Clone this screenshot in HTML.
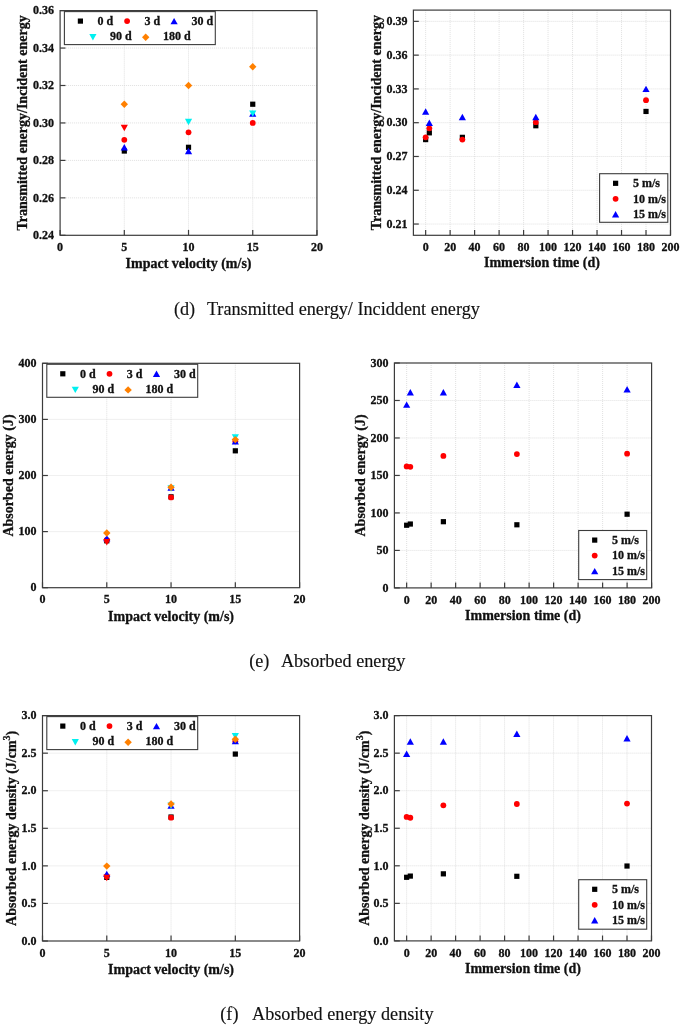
<!DOCTYPE html>
<html><head><meta charset="utf-8"><style>
html,body{margin:0;padding:0;background:#fff;}
svg{display:block;filter:blur(0.35px);}
text{font-family:"Liberation Serif",serif;fill:#111;stroke:#111;stroke-width:0.3px;}
text[font-weight="normal"]{stroke-width:0.15px;}
.g{stroke:#d8d8d8;stroke-width:0.8;stroke-dasharray:1 1;}
.t{stroke:#3c3c3c;stroke-width:1.2;}
</style></head><body>
<svg width="685" height="1025" viewBox="0 0 685 1025">
<rect width="685" height="1025" fill="#fff"/>
<line x1="124.31" y1="10.6" x2="124.31" y2="235.3" class="g"/>
<line x1="188.52" y1="10.6" x2="188.52" y2="235.3" class="g"/>
<line x1="252.74" y1="10.6" x2="252.74" y2="235.3" class="g"/>
<line x1="60.1" y1="197.85" x2="316.95" y2="197.85" class="g"/>
<line x1="60.1" y1="160.4" x2="316.95" y2="160.4" class="g"/>
<line x1="60.1" y1="122.95" x2="316.95" y2="122.95" class="g"/>
<line x1="60.1" y1="85.5" x2="316.95" y2="85.5" class="g"/>
<line x1="60.1" y1="48.05" x2="316.95" y2="48.05" class="g"/>
<rect x="121.71" y="148.44" width="5.2" height="5.2" fill="#000000"/>
<rect x="185.92" y="144.69" width="5.2" height="5.2" fill="#000000"/>
<rect x="250.14" y="101.62" width="5.2" height="5.2" fill="#000000"/>
<circle cx="124.31" cy="139.8" r="2.9" fill="#ff0000"/>
<circle cx="188.52" cy="132.31" r="2.9" fill="#ff0000"/>
<circle cx="252.74" cy="122.95" r="2.9" fill="#ff0000"/>
<path d="M124.31 144.09L127.91 150.49L120.71 150.49Z" fill="#0000ff"/>
<path d="M188.52 147.84L192.12 154.24L184.92 154.24Z" fill="#0000ff"/>
<path d="M252.74 110.39L256.34 116.79L249.14 116.79Z" fill="#0000ff"/>
<path d="M184.92 118.81L192.12 118.81L188.52 125.21Z" fill="#00f0f0"/>
<path d="M249.14 110.39L256.34 110.39L252.74 116.79Z" fill="#00f0f0"/>
<path d="M120.71 124.81L127.91 124.81L124.31 131.21Z" fill="#ff0000"/>
<path d="M124.31 100.52L128.01 104.22L124.31 107.92L120.61 104.22Z" fill="#ff8000"/>
<path d="M188.52 81.8L192.22 85.5L188.52 89.2L184.82 85.5Z" fill="#ff8000"/>
<path d="M252.74 63.07L256.44 66.77L252.74 70.47L249.04 66.77Z" fill="#ff8000"/>
<rect x="64.4" y="11.6" width="150.9" height="33" fill="#fff" stroke="#3c3c3c" stroke-width="1.1"/>
<rect x="77.8" y="18.5" width="5.2" height="5.2" fill="#000000"/>
<text x="97.6" y="24.9" font-size="12" text-anchor="start" font-weight="bold">0 d</text>
<circle cx="127.1" cy="21.1" r="2.9" fill="#ff0000"/>
<text x="144.4" y="24.9" font-size="12" text-anchor="start" font-weight="bold">3 d</text>
<path d="M174.1 17.9L177.7 24.3L170.5 24.3Z" fill="#0000ff"/>
<text x="191.5" y="24.9" font-size="12" text-anchor="start" font-weight="bold">30 d</text>
<path d="M89.3 34L96.5 34L92.9 40.4Z" fill="#00f0f0"/>
<text x="110" y="40.2" font-size="12" text-anchor="start" font-weight="bold">90 d</text>
<path d="M145.7 33.5L149.4 37.2L145.7 40.9L142 37.2Z" fill="#ff8000"/>
<text x="163" y="40.2" font-size="12" text-anchor="start" font-weight="bold">180 d</text>
<rect x="60.1" y="10.6" width="256.85" height="224.7" fill="none" stroke="#3c3c3c" stroke-width="1.2"/>
<line x1="60.1" y1="235.3" x2="60.1" y2="229.9" class="t"/>
<text x="60.1" y="251" font-size="12" text-anchor="middle" font-weight="bold">0</text>
<line x1="124.31" y1="235.3" x2="124.31" y2="229.9" class="t"/>
<text x="124.31" y="251" font-size="12" text-anchor="middle" font-weight="bold">5</text>
<line x1="188.52" y1="235.3" x2="188.52" y2="229.9" class="t"/>
<text x="188.52" y="251" font-size="12" text-anchor="middle" font-weight="bold">10</text>
<line x1="252.74" y1="235.3" x2="252.74" y2="229.9" class="t"/>
<text x="252.74" y="251" font-size="12" text-anchor="middle" font-weight="bold">15</text>
<line x1="316.95" y1="235.3" x2="316.95" y2="229.9" class="t"/>
<text x="316.95" y="251" font-size="12" text-anchor="middle" font-weight="bold">20</text>
<line x1="60.1" y1="235.3" x2="65.5" y2="235.3" class="t"/>
<text x="54.1" y="239" font-size="12" text-anchor="end" font-weight="bold">0.24</text>
<line x1="60.1" y1="197.85" x2="65.5" y2="197.85" class="t"/>
<text x="54.1" y="201.55" font-size="12" text-anchor="end" font-weight="bold">0.26</text>
<line x1="60.1" y1="160.4" x2="65.5" y2="160.4" class="t"/>
<text x="54.1" y="164.1" font-size="12" text-anchor="end" font-weight="bold">0.28</text>
<line x1="60.1" y1="122.95" x2="65.5" y2="122.95" class="t"/>
<text x="54.1" y="126.65" font-size="12" text-anchor="end" font-weight="bold">0.30</text>
<line x1="60.1" y1="85.5" x2="65.5" y2="85.5" class="t"/>
<text x="54.1" y="89.2" font-size="12" text-anchor="end" font-weight="bold">0.32</text>
<line x1="60.1" y1="48.05" x2="65.5" y2="48.05" class="t"/>
<text x="54.1" y="51.75" font-size="12" text-anchor="end" font-weight="bold">0.34</text>
<line x1="60.1" y1="10.6" x2="65.5" y2="10.6" class="t"/>
<text x="54.1" y="14.3" font-size="12" text-anchor="end" font-weight="bold">0.36</text>
<text x="188.53" y="268" font-size="14" text-anchor="middle" font-weight="bold">Impact velocity (m/s)</text>
<text transform="translate(26.8 122.95) rotate(-90)" x="0" y="0" font-size="14" text-anchor="middle" font-weight="bold">Transmitted energy/Incident energy</text>
<line x1="425.64" y1="10.1" x2="425.64" y2="235.3" class="g"/>
<line x1="450.13" y1="10.1" x2="450.13" y2="235.3" class="g"/>
<line x1="474.61" y1="10.1" x2="474.61" y2="235.3" class="g"/>
<line x1="499.1" y1="10.1" x2="499.1" y2="235.3" class="g"/>
<line x1="523.59" y1="10.1" x2="523.59" y2="235.3" class="g"/>
<line x1="548.07" y1="10.1" x2="548.07" y2="235.3" class="g"/>
<line x1="572.56" y1="10.1" x2="572.56" y2="235.3" class="g"/>
<line x1="597.04" y1="10.1" x2="597.04" y2="235.3" class="g"/>
<line x1="621.53" y1="10.1" x2="621.53" y2="235.3" class="g"/>
<line x1="646.01" y1="10.1" x2="646.01" y2="235.3" class="g"/>
<line x1="413.4" y1="224.04" x2="670.5" y2="224.04" class="g"/>
<line x1="413.4" y1="190.26" x2="670.5" y2="190.26" class="g"/>
<line x1="413.4" y1="156.48" x2="670.5" y2="156.48" class="g"/>
<line x1="413.4" y1="122.7" x2="670.5" y2="122.7" class="g"/>
<line x1="413.4" y1="88.92" x2="670.5" y2="88.92" class="g"/>
<line x1="413.4" y1="55.14" x2="670.5" y2="55.14" class="g"/>
<line x1="413.4" y1="21.36" x2="670.5" y2="21.36" class="g"/>
<rect x="423.04" y="136.99" width="5.2" height="5.2" fill="#000000"/>
<rect x="426.72" y="130.23" width="5.2" height="5.2" fill="#000000"/>
<rect x="459.77" y="134.74" width="5.2" height="5.2" fill="#000000"/>
<rect x="533.23" y="123.14" width="5.2" height="5.2" fill="#000000"/>
<rect x="643.41" y="108.84" width="5.2" height="5.2" fill="#000000"/>
<circle cx="425.64" cy="137.34" r="2.9" fill="#ff0000"/>
<circle cx="429.32" cy="128.33" r="2.9" fill="#ff0000"/>
<circle cx="462.37" cy="139.59" r="2.9" fill="#ff0000"/>
<circle cx="535.83" cy="122.14" r="2.9" fill="#ff0000"/>
<circle cx="646.01" cy="100.18" r="2.9" fill="#ff0000"/>
<path d="M425.64 108.24L429.24 114.64L422.04 114.64Z" fill="#0000ff"/>
<path d="M429.32 119.5L432.92 125.9L425.72 125.9Z" fill="#0000ff"/>
<path d="M462.37 113.87L465.97 120.27L458.77 120.27Z" fill="#0000ff"/>
<path d="M535.83 113.87L539.43 120.27L532.23 120.27Z" fill="#0000ff"/>
<path d="M646.01 85.72L649.61 92.12L642.41 92.12Z" fill="#0000ff"/>
<rect x="599.6" y="173.7" width="68.2" height="48.6" fill="#fff" stroke="#3c3c3c" stroke-width="1.1"/>
<rect x="613" y="180.7" width="5.2" height="5.2" fill="#000000"/>
<text x="632.9" y="187.1" font-size="12" text-anchor="start" font-weight="bold">5 m/s</text>
<circle cx="615.6" cy="198.8" r="2.9" fill="#ff0000"/>
<text x="632.9" y="202.6" font-size="12" text-anchor="start" font-weight="bold">10 m/s</text>
<path d="M615.6 211.1L619.2 217.5L612 217.5Z" fill="#0000ff"/>
<text x="632.9" y="218.1" font-size="12" text-anchor="start" font-weight="bold">15 m/s</text>
<rect x="413.4" y="10.1" width="257.1" height="225.2" fill="none" stroke="#3c3c3c" stroke-width="1.2"/>
<line x1="425.64" y1="235.3" x2="425.64" y2="229.9" class="t"/>
<text x="425.64" y="251" font-size="12" text-anchor="middle" font-weight="bold">0</text>
<line x1="450.13" y1="235.3" x2="450.13" y2="229.9" class="t"/>
<text x="450.13" y="251" font-size="12" text-anchor="middle" font-weight="bold">20</text>
<line x1="474.61" y1="235.3" x2="474.61" y2="229.9" class="t"/>
<text x="474.61" y="251" font-size="12" text-anchor="middle" font-weight="bold">40</text>
<line x1="499.1" y1="235.3" x2="499.1" y2="229.9" class="t"/>
<text x="499.1" y="251" font-size="12" text-anchor="middle" font-weight="bold">60</text>
<line x1="523.59" y1="235.3" x2="523.59" y2="229.9" class="t"/>
<text x="523.59" y="251" font-size="12" text-anchor="middle" font-weight="bold">80</text>
<line x1="548.07" y1="235.3" x2="548.07" y2="229.9" class="t"/>
<text x="548.07" y="251" font-size="12" text-anchor="middle" font-weight="bold">100</text>
<line x1="572.56" y1="235.3" x2="572.56" y2="229.9" class="t"/>
<text x="572.56" y="251" font-size="12" text-anchor="middle" font-weight="bold">120</text>
<line x1="597.04" y1="235.3" x2="597.04" y2="229.9" class="t"/>
<text x="597.04" y="251" font-size="12" text-anchor="middle" font-weight="bold">140</text>
<line x1="621.53" y1="235.3" x2="621.53" y2="229.9" class="t"/>
<text x="621.53" y="251" font-size="12" text-anchor="middle" font-weight="bold">160</text>
<line x1="646.01" y1="235.3" x2="646.01" y2="229.9" class="t"/>
<text x="646.01" y="251" font-size="12" text-anchor="middle" font-weight="bold">180</text>
<line x1="670.5" y1="235.3" x2="670.5" y2="229.9" class="t"/>
<text x="670.5" y="251" font-size="12" text-anchor="middle" font-weight="bold">200</text>
<line x1="413.4" y1="224.04" x2="418.8" y2="224.04" class="t"/>
<text x="407.4" y="227.74" font-size="12" text-anchor="end" font-weight="bold">0.21</text>
<line x1="413.4" y1="190.26" x2="418.8" y2="190.26" class="t"/>
<text x="407.4" y="193.96" font-size="12" text-anchor="end" font-weight="bold">0.24</text>
<line x1="413.4" y1="156.48" x2="418.8" y2="156.48" class="t"/>
<text x="407.4" y="160.18" font-size="12" text-anchor="end" font-weight="bold">0.27</text>
<line x1="413.4" y1="122.7" x2="418.8" y2="122.7" class="t"/>
<text x="407.4" y="126.4" font-size="12" text-anchor="end" font-weight="bold">0.30</text>
<line x1="413.4" y1="88.92" x2="418.8" y2="88.92" class="t"/>
<text x="407.4" y="92.62" font-size="12" text-anchor="end" font-weight="bold">0.33</text>
<line x1="413.4" y1="55.14" x2="418.8" y2="55.14" class="t"/>
<text x="407.4" y="58.84" font-size="12" text-anchor="end" font-weight="bold">0.36</text>
<line x1="413.4" y1="21.36" x2="418.8" y2="21.36" class="t"/>
<text x="407.4" y="25.06" font-size="12" text-anchor="end" font-weight="bold">0.39</text>
<text x="541.95" y="266.7" font-size="14" text-anchor="middle" font-weight="bold">Immersion time (d)</text>
<text transform="translate(380.5 122.7) rotate(-90)" x="0" y="0" font-size="14" text-anchor="middle" font-weight="bold">Transmitted energy/Incident energy</text>
<line x1="106.78" y1="363.3" x2="106.78" y2="587.7" class="g"/>
<line x1="171.05" y1="363.3" x2="171.05" y2="587.7" class="g"/>
<line x1="235.33" y1="363.3" x2="235.33" y2="587.7" class="g"/>
<line x1="42.5" y1="531.6" x2="299.6" y2="531.6" class="g"/>
<line x1="42.5" y1="475.5" x2="299.6" y2="475.5" class="g"/>
<line x1="42.5" y1="419.4" x2="299.6" y2="419.4" class="g"/>
<rect x="104.18" y="538.2" width="5.2" height="5.2" fill="#000000"/>
<rect x="168.45" y="494.22" width="5.2" height="5.2" fill="#000000"/>
<rect x="232.73" y="448.22" width="5.2" height="5.2" fill="#000000"/>
<circle cx="106.78" cy="539.9" r="2.9" fill="#ff0000"/>
<circle cx="171.05" cy="497.38" r="2.9" fill="#ff0000"/>
<circle cx="235.33" cy="441.28" r="2.9" fill="#ff0000"/>
<path d="M106.78 534.96L110.38 541.36L103.18 541.36Z" fill="#0000ff"/>
<path d="M171.05 484.25L174.65 490.65L167.45 490.65Z" fill="#0000ff"/>
<path d="M235.33 438.08L238.93 444.48L231.73 444.48Z" fill="#0000ff"/>
<path d="M167.45 485.2L174.65 485.2L171.05 491.6Z" fill="#00f0f0"/>
<path d="M231.73 434.15L238.93 434.15L235.33 440.55Z" fill="#00f0f0"/>
<path d="M103.18 539.06L110.38 539.06L106.78 545.46Z" fill="#ff0000"/>
<path d="M106.78 529.3L110.48 533L106.78 536.7L103.08 533Z" fill="#ff8000"/>
<path d="M171.05 483.58L174.75 487.28L171.05 490.98L167.35 487.28Z" fill="#ff8000"/>
<path d="M235.33 435.9L239.03 439.6L235.33 443.3L231.63 439.6Z" fill="#ff8000"/>
<rect x="46.8" y="364.3" width="150.9" height="33" fill="#fff" stroke="#3c3c3c" stroke-width="1.1"/>
<rect x="60.2" y="371.2" width="5.2" height="5.2" fill="#000000"/>
<text x="80" y="377.6" font-size="12" text-anchor="start" font-weight="bold">0 d</text>
<circle cx="109.5" cy="373.8" r="2.9" fill="#ff0000"/>
<text x="126.8" y="377.6" font-size="12" text-anchor="start" font-weight="bold">3 d</text>
<path d="M156.5 370.6L160.1 377L152.9 377Z" fill="#0000ff"/>
<text x="173.9" y="377.6" font-size="12" text-anchor="start" font-weight="bold">30 d</text>
<path d="M71.7 386.7L78.9 386.7L75.3 393.1Z" fill="#00f0f0"/>
<text x="92.4" y="392.9" font-size="12" text-anchor="start" font-weight="bold">90 d</text>
<path d="M128.1 386.2L131.8 389.9L128.1 393.6L124.4 389.9Z" fill="#ff8000"/>
<text x="145.4" y="392.9" font-size="12" text-anchor="start" font-weight="bold">180 d</text>
<rect x="42.5" y="363.3" width="257.1" height="224.4" fill="none" stroke="#3c3c3c" stroke-width="1.2"/>
<line x1="42.5" y1="587.7" x2="42.5" y2="582.3" class="t"/>
<text x="42.5" y="603.4" font-size="12" text-anchor="middle" font-weight="bold">0</text>
<line x1="106.78" y1="587.7" x2="106.78" y2="582.3" class="t"/>
<text x="106.78" y="603.4" font-size="12" text-anchor="middle" font-weight="bold">5</text>
<line x1="171.05" y1="587.7" x2="171.05" y2="582.3" class="t"/>
<text x="171.05" y="603.4" font-size="12" text-anchor="middle" font-weight="bold">10</text>
<line x1="235.33" y1="587.7" x2="235.33" y2="582.3" class="t"/>
<text x="235.33" y="603.4" font-size="12" text-anchor="middle" font-weight="bold">15</text>
<line x1="299.6" y1="587.7" x2="299.6" y2="582.3" class="t"/>
<text x="299.6" y="603.4" font-size="12" text-anchor="middle" font-weight="bold">20</text>
<line x1="42.5" y1="587.7" x2="47.9" y2="587.7" class="t"/>
<text x="36.5" y="591.4" font-size="12" text-anchor="end" font-weight="bold">0</text>
<line x1="42.5" y1="531.6" x2="47.9" y2="531.6" class="t"/>
<text x="36.5" y="535.3" font-size="12" text-anchor="end" font-weight="bold">100</text>
<line x1="42.5" y1="475.5" x2="47.9" y2="475.5" class="t"/>
<text x="36.5" y="479.2" font-size="12" text-anchor="end" font-weight="bold">200</text>
<line x1="42.5" y1="419.4" x2="47.9" y2="419.4" class="t"/>
<text x="36.5" y="423.1" font-size="12" text-anchor="end" font-weight="bold">300</text>
<line x1="42.5" y1="363.3" x2="47.9" y2="363.3" class="t"/>
<text x="36.5" y="367" font-size="12" text-anchor="end" font-weight="bold">400</text>
<text x="171.05" y="621.1" font-size="14" text-anchor="middle" font-weight="bold">Impact velocity (m/s)</text>
<text transform="translate(13 475.5) rotate(-90)" x="0" y="0" font-size="14" text-anchor="middle" font-weight="bold">Absorbed energy (J)</text>
<line x1="406.65" y1="363" x2="406.65" y2="587.9" class="g"/>
<line x1="431.14" y1="363" x2="431.14" y2="587.9" class="g"/>
<line x1="455.64" y1="363" x2="455.64" y2="587.9" class="g"/>
<line x1="480.13" y1="363" x2="480.13" y2="587.9" class="g"/>
<line x1="504.63" y1="363" x2="504.63" y2="587.9" class="g"/>
<line x1="529.12" y1="363" x2="529.12" y2="587.9" class="g"/>
<line x1="553.62" y1="363" x2="553.62" y2="587.9" class="g"/>
<line x1="578.11" y1="363" x2="578.11" y2="587.9" class="g"/>
<line x1="602.61" y1="363" x2="602.61" y2="587.9" class="g"/>
<line x1="627.1" y1="363" x2="627.1" y2="587.9" class="g"/>
<line x1="394.4" y1="550.42" x2="651.6" y2="550.42" class="g"/>
<line x1="394.4" y1="512.93" x2="651.6" y2="512.93" class="g"/>
<line x1="394.4" y1="475.45" x2="651.6" y2="475.45" class="g"/>
<line x1="394.4" y1="437.97" x2="651.6" y2="437.97" class="g"/>
<line x1="394.4" y1="400.48" x2="651.6" y2="400.48" class="g"/>
<rect x="404.05" y="522.63" width="5.2" height="5.2" fill="#000000"/>
<rect x="407.72" y="521.43" width="5.2" height="5.2" fill="#000000"/>
<rect x="440.79" y="519.1" width="5.2" height="5.2" fill="#000000"/>
<rect x="514.28" y="522.18" width="5.2" height="5.2" fill="#000000"/>
<rect x="624.5" y="511.61" width="5.2" height="5.2" fill="#000000"/>
<circle cx="406.65" cy="466.45" r="2.9" fill="#ff0000"/>
<circle cx="410.32" cy="466.83" r="2.9" fill="#ff0000"/>
<circle cx="443.39" cy="455.96" r="2.9" fill="#ff0000"/>
<circle cx="516.88" cy="454.08" r="2.9" fill="#ff0000"/>
<circle cx="627.1" cy="453.71" r="2.9" fill="#ff0000"/>
<path d="M406.65 401.41L410.25 407.81L403.05 407.81Z" fill="#0000ff"/>
<path d="M410.32 389.04L413.92 395.44L406.72 395.44Z" fill="#0000ff"/>
<path d="M443.39 389.04L446.99 395.44L439.79 395.44Z" fill="#0000ff"/>
<path d="M516.88 381.54L520.48 387.94L513.28 387.94Z" fill="#0000ff"/>
<path d="M627.1 386.04L630.7 392.44L623.5 392.44Z" fill="#0000ff"/>
<rect x="578.7" y="530.5" width="68" height="49.1" fill="#fff" stroke="#3c3c3c" stroke-width="1.1"/>
<rect x="592.1" y="537.5" width="5.2" height="5.2" fill="#000000"/>
<text x="612" y="543.9" font-size="12" text-anchor="start" font-weight="bold">5 m/s</text>
<circle cx="594.7" cy="555.6" r="2.9" fill="#ff0000"/>
<text x="612" y="559.4" font-size="12" text-anchor="start" font-weight="bold">10 m/s</text>
<path d="M594.7 567.9L598.3 574.3L591.1 574.3Z" fill="#0000ff"/>
<text x="612" y="574.9" font-size="12" text-anchor="start" font-weight="bold">15 m/s</text>
<rect x="394.4" y="363" width="257.2" height="224.9" fill="none" stroke="#3c3c3c" stroke-width="1.2"/>
<line x1="406.65" y1="587.9" x2="406.65" y2="582.5" class="t"/>
<text x="406.65" y="603.6" font-size="12" text-anchor="middle" font-weight="bold">0</text>
<line x1="431.14" y1="587.9" x2="431.14" y2="582.5" class="t"/>
<text x="431.14" y="603.6" font-size="12" text-anchor="middle" font-weight="bold">20</text>
<line x1="455.64" y1="587.9" x2="455.64" y2="582.5" class="t"/>
<text x="455.64" y="603.6" font-size="12" text-anchor="middle" font-weight="bold">40</text>
<line x1="480.13" y1="587.9" x2="480.13" y2="582.5" class="t"/>
<text x="480.13" y="603.6" font-size="12" text-anchor="middle" font-weight="bold">60</text>
<line x1="504.63" y1="587.9" x2="504.63" y2="582.5" class="t"/>
<text x="504.63" y="603.6" font-size="12" text-anchor="middle" font-weight="bold">80</text>
<line x1="529.12" y1="587.9" x2="529.12" y2="582.5" class="t"/>
<text x="529.12" y="603.6" font-size="12" text-anchor="middle" font-weight="bold">100</text>
<line x1="553.62" y1="587.9" x2="553.62" y2="582.5" class="t"/>
<text x="553.62" y="603.6" font-size="12" text-anchor="middle" font-weight="bold">120</text>
<line x1="578.11" y1="587.9" x2="578.11" y2="582.5" class="t"/>
<text x="578.11" y="603.6" font-size="12" text-anchor="middle" font-weight="bold">140</text>
<line x1="602.61" y1="587.9" x2="602.61" y2="582.5" class="t"/>
<text x="602.61" y="603.6" font-size="12" text-anchor="middle" font-weight="bold">160</text>
<line x1="627.1" y1="587.9" x2="627.1" y2="582.5" class="t"/>
<text x="627.1" y="603.6" font-size="12" text-anchor="middle" font-weight="bold">180</text>
<line x1="651.6" y1="587.9" x2="651.6" y2="582.5" class="t"/>
<text x="651.6" y="603.6" font-size="12" text-anchor="middle" font-weight="bold">200</text>
<line x1="394.4" y1="587.9" x2="399.8" y2="587.9" class="t"/>
<text x="388.4" y="591.6" font-size="12" text-anchor="end" font-weight="bold">0</text>
<line x1="394.4" y1="550.42" x2="399.8" y2="550.42" class="t"/>
<text x="388.4" y="554.12" font-size="12" text-anchor="end" font-weight="bold">50</text>
<line x1="394.4" y1="512.93" x2="399.8" y2="512.93" class="t"/>
<text x="388.4" y="516.63" font-size="12" text-anchor="end" font-weight="bold">100</text>
<line x1="394.4" y1="475.45" x2="399.8" y2="475.45" class="t"/>
<text x="388.4" y="479.15" font-size="12" text-anchor="end" font-weight="bold">150</text>
<line x1="394.4" y1="437.97" x2="399.8" y2="437.97" class="t"/>
<text x="388.4" y="441.67" font-size="12" text-anchor="end" font-weight="bold">200</text>
<line x1="394.4" y1="400.48" x2="399.8" y2="400.48" class="t"/>
<text x="388.4" y="404.18" font-size="12" text-anchor="end" font-weight="bold">250</text>
<line x1="394.4" y1="363" x2="399.8" y2="363" class="t"/>
<text x="388.4" y="366.7" font-size="12" text-anchor="end" font-weight="bold">300</text>
<text x="523" y="620.1" font-size="14" text-anchor="middle" font-weight="bold">Immersion time (d)</text>
<text transform="translate(365 475.45) rotate(-90)" x="0" y="0" font-size="14" text-anchor="middle" font-weight="bold">Absorbed energy (J)</text>
<line x1="106.78" y1="715.6" x2="106.78" y2="941" class="g"/>
<line x1="171.05" y1="715.6" x2="171.05" y2="941" class="g"/>
<line x1="235.33" y1="715.6" x2="235.33" y2="941" class="g"/>
<line x1="42.5" y1="903.43" x2="299.6" y2="903.43" class="g"/>
<line x1="42.5" y1="865.87" x2="299.6" y2="865.87" class="g"/>
<line x1="42.5" y1="828.3" x2="299.6" y2="828.3" class="g"/>
<line x1="42.5" y1="790.73" x2="299.6" y2="790.73" class="g"/>
<line x1="42.5" y1="753.17" x2="299.6" y2="753.17" class="g"/>
<rect x="104.18" y="874.76" width="5.2" height="5.2" fill="#000000"/>
<rect x="168.45" y="814.43" width="5.2" height="5.2" fill="#000000"/>
<rect x="232.73" y="751.47" width="5.2" height="5.2" fill="#000000"/>
<circle cx="106.78" cy="876.16" r="2.9" fill="#ff0000"/>
<circle cx="171.05" cy="817.71" r="2.9" fill="#ff0000"/>
<circle cx="235.33" cy="741.15" r="2.9" fill="#ff0000"/>
<path d="M106.78 870.71L110.38 877.11L103.18 877.11Z" fill="#0000ff"/>
<path d="M171.05 802.33L174.65 808.73L167.45 808.73Z" fill="#0000ff"/>
<path d="M235.33 737.87L238.93 744.27L231.73 744.27Z" fill="#0000ff"/>
<path d="M167.45 802.56L174.65 802.56L171.05 808.96Z" fill="#00f0f0"/>
<path d="M231.73 733.06L238.93 733.06L235.33 739.46Z" fill="#00f0f0"/>
<path d="M103.18 874.84L110.38 874.84L106.78 881.24Z" fill="#ff0000"/>
<path d="M106.78 862.39L110.48 866.09L106.78 869.79L103.08 866.09Z" fill="#ff8000"/>
<path d="M171.05 800.33L174.75 804.03L171.05 807.73L167.35 804.03Z" fill="#ff8000"/>
<path d="M235.33 735.57L239.03 739.27L235.33 742.97L231.63 739.27Z" fill="#ff8000"/>
<rect x="46.8" y="716.6" width="150.9" height="33" fill="#fff" stroke="#3c3c3c" stroke-width="1.1"/>
<rect x="60.2" y="723.5" width="5.2" height="5.2" fill="#000000"/>
<text x="80" y="729.9" font-size="12" text-anchor="start" font-weight="bold">0 d</text>
<circle cx="109.5" cy="726.1" r="2.9" fill="#ff0000"/>
<text x="126.8" y="729.9" font-size="12" text-anchor="start" font-weight="bold">3 d</text>
<path d="M156.5 722.9L160.1 729.3L152.9 729.3Z" fill="#0000ff"/>
<text x="173.9" y="729.9" font-size="12" text-anchor="start" font-weight="bold">30 d</text>
<path d="M71.7 739L78.9 739L75.3 745.4Z" fill="#00f0f0"/>
<text x="92.4" y="745.2" font-size="12" text-anchor="start" font-weight="bold">90 d</text>
<path d="M128.1 738.5L131.8 742.2L128.1 745.9L124.4 742.2Z" fill="#ff8000"/>
<text x="145.4" y="745.2" font-size="12" text-anchor="start" font-weight="bold">180 d</text>
<rect x="42.5" y="715.6" width="257.1" height="225.4" fill="none" stroke="#3c3c3c" stroke-width="1.2"/>
<line x1="42.5" y1="941" x2="42.5" y2="935.6" class="t"/>
<text x="42.5" y="956.7" font-size="12" text-anchor="middle" font-weight="bold">0</text>
<line x1="106.78" y1="941" x2="106.78" y2="935.6" class="t"/>
<text x="106.78" y="956.7" font-size="12" text-anchor="middle" font-weight="bold">5</text>
<line x1="171.05" y1="941" x2="171.05" y2="935.6" class="t"/>
<text x="171.05" y="956.7" font-size="12" text-anchor="middle" font-weight="bold">10</text>
<line x1="235.33" y1="941" x2="235.33" y2="935.6" class="t"/>
<text x="235.33" y="956.7" font-size="12" text-anchor="middle" font-weight="bold">15</text>
<line x1="299.6" y1="941" x2="299.6" y2="935.6" class="t"/>
<text x="299.6" y="956.7" font-size="12" text-anchor="middle" font-weight="bold">20</text>
<line x1="42.5" y1="941" x2="47.9" y2="941" class="t"/>
<text x="36.5" y="944.7" font-size="12" text-anchor="end" font-weight="bold">0.0</text>
<line x1="42.5" y1="903.43" x2="47.9" y2="903.43" class="t"/>
<text x="36.5" y="907.13" font-size="12" text-anchor="end" font-weight="bold">0.5</text>
<line x1="42.5" y1="865.87" x2="47.9" y2="865.87" class="t"/>
<text x="36.5" y="869.57" font-size="12" text-anchor="end" font-weight="bold">1.0</text>
<line x1="42.5" y1="828.3" x2="47.9" y2="828.3" class="t"/>
<text x="36.5" y="832" font-size="12" text-anchor="end" font-weight="bold">1.5</text>
<line x1="42.5" y1="790.73" x2="47.9" y2="790.73" class="t"/>
<text x="36.5" y="794.43" font-size="12" text-anchor="end" font-weight="bold">2.0</text>
<line x1="42.5" y1="753.17" x2="47.9" y2="753.17" class="t"/>
<text x="36.5" y="756.87" font-size="12" text-anchor="end" font-weight="bold">2.5</text>
<line x1="42.5" y1="715.6" x2="47.9" y2="715.6" class="t"/>
<text x="36.5" y="719.3" font-size="12" text-anchor="end" font-weight="bold">3.0</text>
<text x="171.05" y="974" font-size="14" text-anchor="middle" font-weight="bold">Impact velocity (m/s)</text>
<text transform="translate(15.7 828.3) rotate(-90)" x="0" y="0" font-size="14" text-anchor="middle" font-weight="bold">Absorbed energy density (J/cm<tspan font-size="10" dy="-5.5">3</tspan><tspan dy="5.5">)</tspan></text>
<line x1="406.64" y1="715.6" x2="406.64" y2="940.9" class="g"/>
<line x1="431.13" y1="715.6" x2="431.13" y2="940.9" class="g"/>
<line x1="455.61" y1="715.6" x2="455.61" y2="940.9" class="g"/>
<line x1="480.1" y1="715.6" x2="480.1" y2="940.9" class="g"/>
<line x1="504.59" y1="715.6" x2="504.59" y2="940.9" class="g"/>
<line x1="529.07" y1="715.6" x2="529.07" y2="940.9" class="g"/>
<line x1="553.56" y1="715.6" x2="553.56" y2="940.9" class="g"/>
<line x1="578.04" y1="715.6" x2="578.04" y2="940.9" class="g"/>
<line x1="602.53" y1="715.6" x2="602.53" y2="940.9" class="g"/>
<line x1="627.01" y1="715.6" x2="627.01" y2="940.9" class="g"/>
<line x1="394.4" y1="903.35" x2="651.5" y2="903.35" class="g"/>
<line x1="394.4" y1="865.8" x2="651.5" y2="865.8" class="g"/>
<line x1="394.4" y1="828.25" x2="651.5" y2="828.25" class="g"/>
<line x1="394.4" y1="790.7" x2="651.5" y2="790.7" class="g"/>
<line x1="394.4" y1="753.15" x2="651.5" y2="753.15" class="g"/>
<rect x="404.04" y="874.69" width="5.2" height="5.2" fill="#000000"/>
<rect x="407.72" y="873.49" width="5.2" height="5.2" fill="#000000"/>
<rect x="440.77" y="871.24" width="5.2" height="5.2" fill="#000000"/>
<rect x="514.23" y="873.71" width="5.2" height="5.2" fill="#000000"/>
<rect x="624.41" y="863.43" width="5.2" height="5.2" fill="#000000"/>
<circle cx="406.64" cy="816.91" r="2.9" fill="#ff0000"/>
<circle cx="410.32" cy="817.74" r="2.9" fill="#ff0000"/>
<circle cx="443.37" cy="805.34" r="2.9" fill="#ff0000"/>
<circle cx="516.83" cy="803.99" r="2.9" fill="#ff0000"/>
<circle cx="627.01" cy="803.62" r="2.9" fill="#ff0000"/>
<path d="M406.64 750.48L410.24 756.88L403.04 756.88Z" fill="#0000ff"/>
<path d="M410.32 738.23L413.92 744.63L406.72 744.63Z" fill="#0000ff"/>
<path d="M443.37 738.23L446.97 744.63L439.77 744.63Z" fill="#0000ff"/>
<path d="M516.83 730.57L520.43 736.97L513.23 736.97Z" fill="#0000ff"/>
<path d="M627.01 735.08L630.61 741.48L623.41 741.48Z" fill="#0000ff"/>
<rect x="578.7" y="879.7" width="68" height="49.5" fill="#fff" stroke="#3c3c3c" stroke-width="1.1"/>
<rect x="592.1" y="886.7" width="5.2" height="5.2" fill="#000000"/>
<text x="612" y="893.1" font-size="12" text-anchor="start" font-weight="bold">5 m/s</text>
<circle cx="594.7" cy="904.8" r="2.9" fill="#ff0000"/>
<text x="612" y="908.6" font-size="12" text-anchor="start" font-weight="bold">10 m/s</text>
<path d="M594.7 917.1L598.3 923.5L591.1 923.5Z" fill="#0000ff"/>
<text x="612" y="924.1" font-size="12" text-anchor="start" font-weight="bold">15 m/s</text>
<rect x="394.4" y="715.6" width="257.1" height="225.3" fill="none" stroke="#3c3c3c" stroke-width="1.2"/>
<line x1="406.64" y1="940.9" x2="406.64" y2="935.5" class="t"/>
<text x="406.64" y="956.6" font-size="12" text-anchor="middle" font-weight="bold">0</text>
<line x1="431.13" y1="940.9" x2="431.13" y2="935.5" class="t"/>
<text x="431.13" y="956.6" font-size="12" text-anchor="middle" font-weight="bold">20</text>
<line x1="455.61" y1="940.9" x2="455.61" y2="935.5" class="t"/>
<text x="455.61" y="956.6" font-size="12" text-anchor="middle" font-weight="bold">40</text>
<line x1="480.1" y1="940.9" x2="480.1" y2="935.5" class="t"/>
<text x="480.1" y="956.6" font-size="12" text-anchor="middle" font-weight="bold">60</text>
<line x1="504.59" y1="940.9" x2="504.59" y2="935.5" class="t"/>
<text x="504.59" y="956.6" font-size="12" text-anchor="middle" font-weight="bold">80</text>
<line x1="529.07" y1="940.9" x2="529.07" y2="935.5" class="t"/>
<text x="529.07" y="956.6" font-size="12" text-anchor="middle" font-weight="bold">100</text>
<line x1="553.56" y1="940.9" x2="553.56" y2="935.5" class="t"/>
<text x="553.56" y="956.6" font-size="12" text-anchor="middle" font-weight="bold">120</text>
<line x1="578.04" y1="940.9" x2="578.04" y2="935.5" class="t"/>
<text x="578.04" y="956.6" font-size="12" text-anchor="middle" font-weight="bold">140</text>
<line x1="602.53" y1="940.9" x2="602.53" y2="935.5" class="t"/>
<text x="602.53" y="956.6" font-size="12" text-anchor="middle" font-weight="bold">160</text>
<line x1="627.01" y1="940.9" x2="627.01" y2="935.5" class="t"/>
<text x="627.01" y="956.6" font-size="12" text-anchor="middle" font-weight="bold">180</text>
<line x1="651.5" y1="940.9" x2="651.5" y2="935.5" class="t"/>
<text x="651.5" y="956.6" font-size="12" text-anchor="middle" font-weight="bold">200</text>
<line x1="394.4" y1="940.9" x2="399.8" y2="940.9" class="t"/>
<text x="388.4" y="944.6" font-size="12" text-anchor="end" font-weight="bold">0.0</text>
<line x1="394.4" y1="903.35" x2="399.8" y2="903.35" class="t"/>
<text x="388.4" y="907.05" font-size="12" text-anchor="end" font-weight="bold">0.5</text>
<line x1="394.4" y1="865.8" x2="399.8" y2="865.8" class="t"/>
<text x="388.4" y="869.5" font-size="12" text-anchor="end" font-weight="bold">1.0</text>
<line x1="394.4" y1="828.25" x2="399.8" y2="828.25" class="t"/>
<text x="388.4" y="831.95" font-size="12" text-anchor="end" font-weight="bold">1.5</text>
<line x1="394.4" y1="790.7" x2="399.8" y2="790.7" class="t"/>
<text x="388.4" y="794.4" font-size="12" text-anchor="end" font-weight="bold">2.0</text>
<line x1="394.4" y1="753.15" x2="399.8" y2="753.15" class="t"/>
<text x="388.4" y="756.85" font-size="12" text-anchor="end" font-weight="bold">2.5</text>
<line x1="394.4" y1="715.6" x2="399.8" y2="715.6" class="t"/>
<text x="388.4" y="719.3" font-size="12" text-anchor="end" font-weight="bold">3.0</text>
<text x="522.95" y="972.9" font-size="14" text-anchor="middle" font-weight="bold">Immersion time (d)</text>
<text transform="translate(368.5 828.25) rotate(-90)" x="0" y="0" font-size="14" text-anchor="middle" font-weight="bold">Absorbed energy density (J/cm<tspan font-size="10" dy="-5.5">3</tspan><tspan dy="5.5">)</tspan></text>
<text x="173.9" y="315" font-size="18.2" text-anchor="start" font-weight="normal">(d)</text>
<text x="206.9" y="315" font-size="18.2" text-anchor="start" font-weight="normal">Transmitted energy/ Inciddent energy</text>
<text x="249.2" y="667.1" font-size="18.2" text-anchor="start" font-weight="normal">(e)</text>
<text x="280.9" y="667.1" font-size="18.2" text-anchor="start" font-weight="normal">Absorbed energy</text>
<text x="220.3" y="1020.3" font-size="18.2" text-anchor="start" font-weight="normal">(f)</text>
<text x="252" y="1020.3" font-size="18.2" text-anchor="start" font-weight="normal">Absorbed energy density</text>
</svg>
</body></html>
